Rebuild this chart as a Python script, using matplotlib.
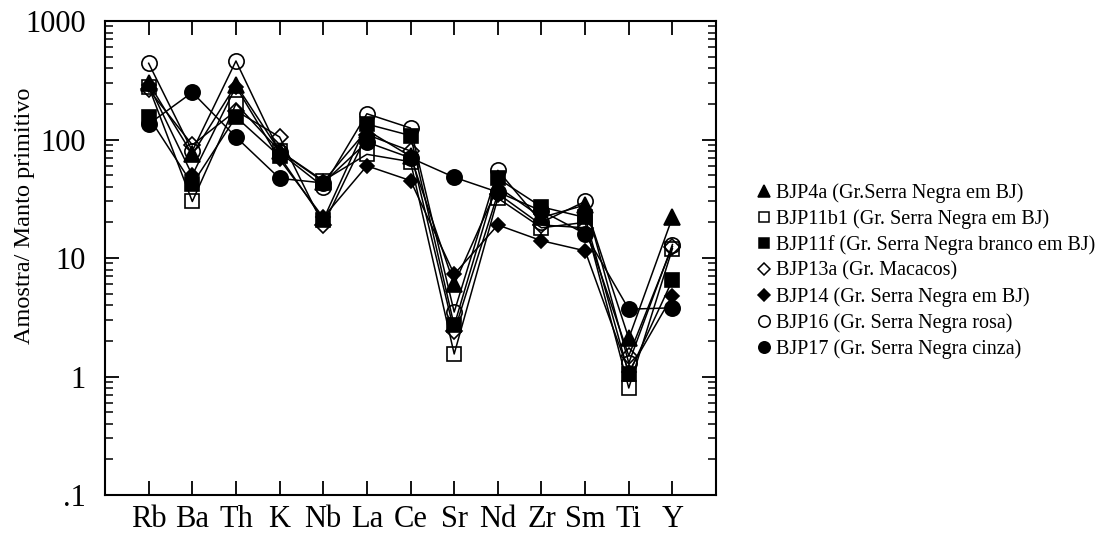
import matplotlib
matplotlib.use('Agg')
import matplotlib.pyplot as plt
from matplotlib.lines import Line2D
from matplotlib.ticker import FixedLocator, FixedFormatter, NullFormatter, LogLocator

plt.rcParams['font.family'] = ['Liberation Serif', 'DejaVu Serif']

elementos = ['Rb', 'Ba', 'Th', 'K', 'Nb', 'La', 'Ce', 'Sr', 'Nd', 'Zr', 'Sm', 'Ti', 'Y']

amostras = ['BJP4a (Gr.Serra Negra em BJ)',
            'BJP11b1 (Gr. Serra Negra em BJ)',
            'BJP11f (Gr. Serra Negra branco em BJ)',
            'BJP13a (Gr. Macacos)',
            'BJP14 (Gr. Serra Negra em BJ)',
            'BJP16 (Gr. Serra Negra rosa)',
            'BJP17 (Gr. Serra Negra cinza)']

bjp4a   = [300, 75, 290, 80, 44, 120, 72, 6.0, 40, 22, 28, 2.1, 22]
bjp11b1 = [280, 30, 200, 80, 45, 75, 65, 1.55, 32, 18, 20, 0.8, 12]
bjp11f  = [155, 42, 155, 72, 21, 135, 108, 2.7, 47, 27, 22, 1.05, 6.5]
bjp13a  = [265, 90, 175, 105, 19, 110, 80, 2.4, 35, 19, 18, 1.5, 12.5]
bjp14   = [290, 50, 280, 68, 22, 60, 45, 7.3, 19, 14, 11.5, 1.1, 4.8]
bjp16   = [440, 80, 460, 78, 40, 165, 125, 3.5, 55, 20, 30, 1.3, 13]
bjp17   = [135, 250, 105, 47, 43, 95, 70, 48, 36, 25, 16, 3.7, 3.8]

series = [bjp4a, bjp11b1, bjp11f, bjp13a, bjp14, bjp16, bjp17]
# (marcador, tamanho, preenchido)
estilos = [('^', 11, True), ('s', 10, False), ('s', 10, True), ('D', 8, False),
           ('D', 7.5, True), ('o', 11, False), ('o', 11, True)]

fig = plt.figure(figsize=(11.03, 5.39), dpi=100)
ax = fig.add_axes([0.0952, 0.0816, 0.5540, 0.8794])

x = list(range(len(elementos)))
handles = []
for ys, (m, ms, cheio), nome in zip(series, estilos, amostras):
    fc = 'black' if cheio else 'none'
    ax.plot(x, ys, color='black', lw=1.1, marker=m, ms=ms, mfc=fc, mec='black', mew=1.2)
    handles.append(Line2D([], [], ls='none', marker=m, ms=ms * 0.75, mfc=fc, mec='black',
                          mew=1.1, label=nome))

ax.set_yscale('log')
ax.set_ylim(0.1, 1000)
ax.set_xlim(-1, 13)

ax.yaxis.set_major_locator(FixedLocator([0.1, 1, 10, 100, 1000]))
ax.yaxis.set_major_formatter(FixedFormatter(['.1', '1', '10', '100', '1000']))
ax.yaxis.set_minor_locator(LogLocator(base=10, subs=range(2, 10)))
ax.yaxis.set_minor_formatter(NullFormatter())
ax.set_xticks(x)
ax.set_xticklabels(elementos)

ax.tick_params(axis='both', which='major', direction='in', length=10, width=1.3,
               top=True, right=True, labelsize=22)
ax.tick_params(axis='y', which='major', pad=14)
ax.tick_params(axis='x', which='major', pad=7)
ax.tick_params(axis='y', which='minor', direction='in', length=6, width=1.1, right=True)
for s in ax.spines.values():
    s.set_linewidth(1.5)

ax.set_ylabel('Amostra/ Manto primitivo', fontsize=17.5)
ax.yaxis.set_label_coords(-0.114, 0.59)

fig.legend(handles=handles, loc='center left', bbox_to_anchor=(0.678, 0.497),
           frameon=False, fontsize=14.5, handlelength=0.6, handletextpad=0.3,
           labelspacing=0.32, borderpad=0)

fig.savefig('out.png', dpi=100)
